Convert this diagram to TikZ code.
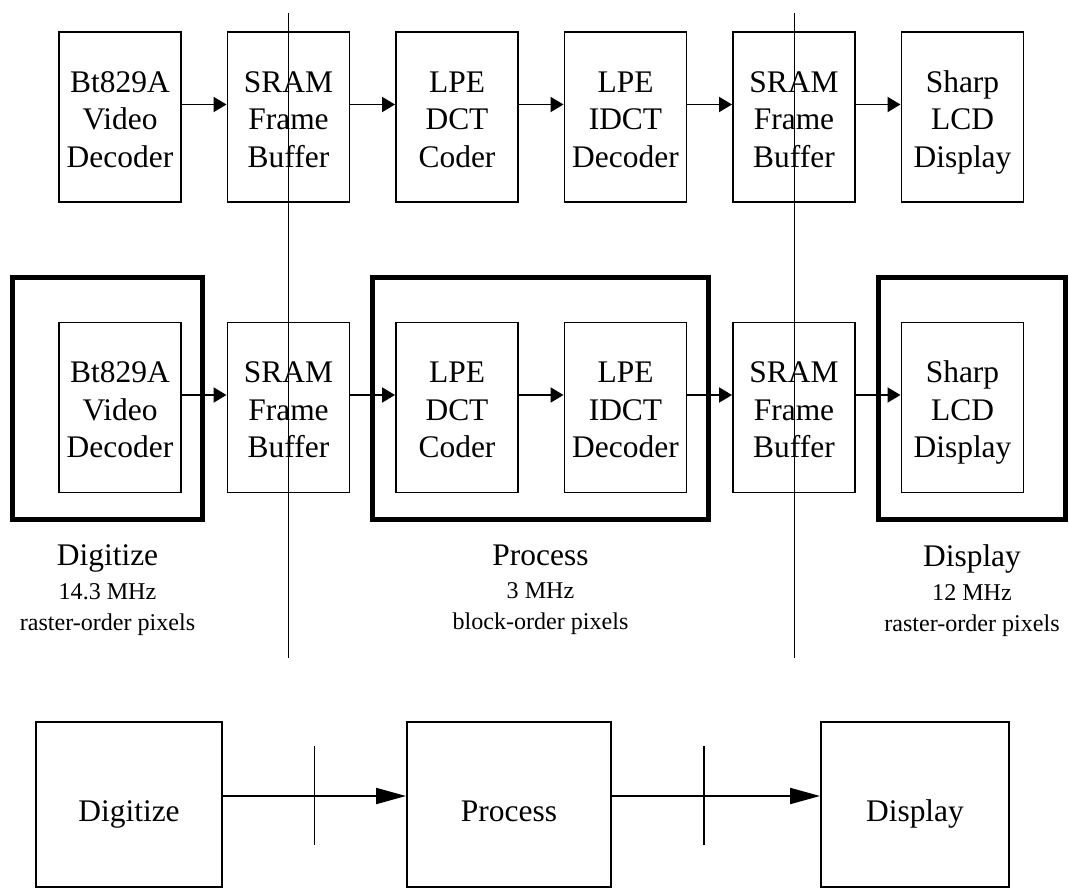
\documentclass[tikz,border=0pt]{standalone}
\usepackage{fontspec}
\setmainfont{Liberation Serif}
\usetikzlibrary{arrows.meta}

\newcommand\boxfont{\fontsize{17.9pt}{21.3pt}\selectfont}
\newcommand\notefont{\fontsize{13.7pt}{17.6pt}\selectfont}

\begin{document}
\begin{tikzpicture}[line width=1.1pt,
    unit/.style={draw, align=center, font=\boxfont, inner sep=0pt, text height=2cm, text depth=0pt,
        minimum width=2.44cm, minimum height=3.4cm},
    stage/.style={draw, line width=2.9pt, inner sep=0pt, minimum height=4.84cm},
    block/.style={draw, font=\boxfont, inner sep=0pt, text height=0.68cm, text depth=0pt, minimum height=3.3cm},
    note/.style={align=center, font=\notefont, anchor=north, inner sep=0pt},
    flow/.style={-{Triangle[length=0.26cm,width=0.3cm]}},
    bigflow/.style={-{Triangle[length=0.6cm,width=0.32cm]}},
    cut/.style={line width=0.5pt}]

    \useasboundingbox (0,0) rectangle (21.38,-17.84);

    % chip chain
    \node[unit] at (2.40, -2.34) (a1) {Bt829A\\Video\\Decoder};
    \node[unit] at (5.77, -2.34) (a2) {SRAM\\Frame\\Buffer};
    \node[unit] at (9.14, -2.34) (a3) {LPE\\DCT\\Coder};
    \node[unit] at (12.51, -2.34) (a4) {LPE\\IDCT\\Decoder};
    \node[unit] at (15.88, -2.34) (a5) {SRAM\\Frame\\Buffer};
    \node[unit] at (19.25, -2.34) (a6) {Sharp\\LCD\\Display};

    \foreach \i/\j in {1/2, 2/3, 3/4, 4/5, 5/6}
        \path[flow] ([yshift=0.25cm]a\i.east) edge ([yshift=0.25cm]a\j.west);

    % same chain, grouped by clock domain
    \node[stage, minimum width=3.8cm] at (2.15, -7.97) (dig) {};
    \node[stage, minimum width=6.72cm] at (10.81, -7.97) (proc) {};
    \node[stage, minimum width=3.74cm] at (19.44, -7.97) (disp) {};

    \node[unit] at (2.40, -8.15) (m1) {Bt829A\\Video\\Decoder};
    \node[unit] at (5.77, -8.15) (m2) {SRAM\\Frame\\Buffer};
    \node[unit] at (9.14, -8.15) (m3) {LPE\\DCT\\Coder};
    \node[unit] at (12.51, -8.15) (m4) {LPE\\IDCT\\Decoder};
    \node[unit] at (15.88, -8.15) (m5) {SRAM\\Frame\\Buffer};
    \node[unit] at (19.25, -8.15) (m6) {Sharp\\LCD\\Display};

    \foreach \i/\j in {1/2, 2/3, 3/4, 4/5, 5/6}
        \path[flow] ([yshift=0.25cm]m\i.east) edge ([yshift=0.25cm]m\j.west);

    \node[note] at (2.15, -10.87) (diglbl) {{\boxfont Digitize}\\[0.06cm]14.3 MHz\\raster-order pixels};
    \node[note] at (10.81, -10.87) (proclbl) {{\boxfont Process}\\[0.06cm]3 MHz\\block-order pixels};
    \node[note] at (19.44, -10.87) (displbl) {{\boxfont Display}\\[0.06cm]12 MHz\\raster-order pixels};

    % buffers split the clock domains
    \coordinate (cuttop) at (0, -0.26);
    \coordinate (cutbot) at (0, -13.16);
    \draw[cut] (a2 |- cuttop) -- (a2 |- cutbot);
    \draw[cut] (a5 |- cuttop) -- (a5 |- cutbot);

    % summary
    \node[block, minimum width=3.72cm] at (2.58, -16.09) (d) {Digitize};
    \node[block, minimum width=4.08cm] at (10.18, -16.09) (p) {Process};
    \node[block, minimum width=3.76cm] at (18.30, -16.09) (s) {Display};

    \draw[bigflow] ([yshift=0.17cm]d.east) -- coordinate[pos=0.5] (t1) ([yshift=0.17cm]p.west);
    \draw[bigflow] ([yshift=0.17cm]p.east) -- coordinate[pos=0.443] (t2) ([yshift=0.17cm]s.west);
    \draw ([yshift=1cm]t1) -- ([yshift=-0.98cm]t1);
    \draw ([yshift=1cm]t2) -- ([yshift=-0.98cm]t2);

\end{tikzpicture}
\end{document}
